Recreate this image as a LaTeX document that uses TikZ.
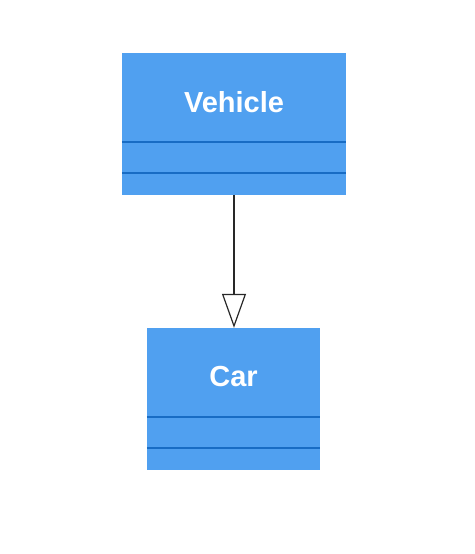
\documentclass[tikz,border=0pt]{standalone}
\usepackage{fontspec}
\setsansfont{Liberation Sans}
\usetikzlibrary{arrows.meta}
\definecolor{classfill}{RGB}{80,160,240}
\definecolor{classline}{RGB}{24,108,196}
\definecolor{linkcol}{RGB}{40,40,40}
\begin{document}
\begin{tikzpicture}
        [x=1pt, y=-1pt,
        classbox/.style={rectangle, fill=classfill, minimum height=142pt, inner sep=0pt},
        classname/.style={text=white, font=\sffamily\bfseries\fontsize{29}{32}\selectfont},
        compartment/.style={classline, line width=1.6pt},
        inherit/.style={linkcol, line width=1.2pt, -{Triangle[open, length=34pt, width=24pt, line width=1.2pt]}}]

        \useasboundingbox (0,0) rectangle (474,554);

        \node[classbox, minimum width=224pt] (vehicle) at (234,124) {};
        \node[classbox, minimum width=173pt] (car) at (233.5,399) {};

        % class names
        \node[classname] (vehicleName) at ([yshift=-49pt]vehicle.north) {Vehicle};
        \node[classname] (carName) at ([yshift=-49pt]car.north) {Car};

        % attribute and method compartments
        \draw[compartment] ([yshift=53pt]vehicle.south west) -- ([yshift=53pt]vehicle.south east);
        \draw[compartment] ([yshift=22pt]vehicle.south west) -- ([yshift=22pt]vehicle.south east);
        \draw[compartment] ([yshift=53pt]car.south west) -- ([yshift=53pt]car.south east);
        \draw[compartment] ([yshift=22pt]car.south west) -- ([yshift=22pt]car.south east);

        % generalisation
        \draw[inherit] (vehicle.south) -- (vehicle.south |- car.north);

        \end{tikzpicture}
\end{document}
